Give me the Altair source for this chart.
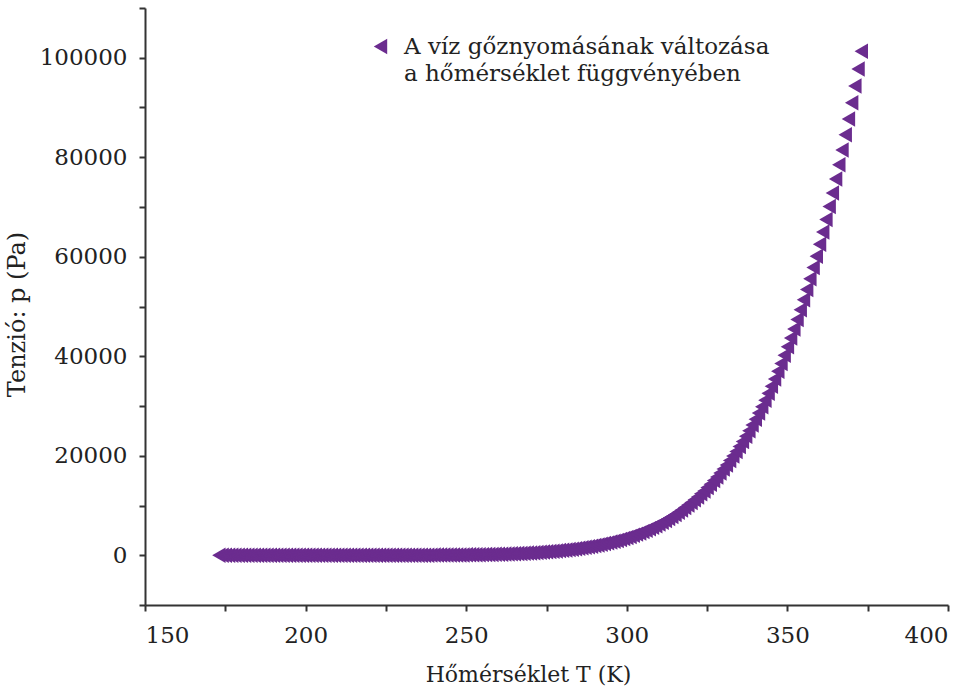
import altair as alt
import pandas as pd

# Temperature (K) and saturated vapour pressure of water (Pa)
temps = list(range(173, 374))
pressure = [
    0.0014, 0.0017, 0.0020, 0.0025, 0.0030, 0.0038, 0.0045, 0.0054, 0.0066, 0.0080,
    0.0097, 0.012, 0.014, 0.017, 0.020, 0.024, 0.029, 0.034, 0.041, 0.048,
    0.055, 0.066, 0.078, 0.092, 0.11, 0.13, 0.15, 0.17, 0.20, 0.23,
    0.26, 0.30, 0.35, 0.40, 0.46, 0.53, 0.61, 0.70, 0.80, 0.91,
    1.08, 1.23, 1.40, 1.59, 1.81, 2.06, 2.34, 2.65, 3.0, 3.4,
    3.9, 4.4, 5.0, 5.6, 6.3, 7.2, 8.1, 9.1, 10.2, 11.5,
    12.9, 14.4, 16.1, 18.0, 20.1, 22.4, 25.0, 27.8, 30.9, 34.3,
    38, 42, 47, 52, 57, 63, 70, 77, 85, 94,
    103, 114, 125, 137, 151, 165, 181, 198, 217, 238,
    260, 284, 310, 338, 369, 402, 437, 476, 517, 563,
    611, 657, 706, 758, 813, 872, 935, 1002, 1073, 1148,
    1228, 1313, 1403, 1498, 1599, 1706, 1819, 1938, 2064, 2198,
    2339, 2488, 2645, 2810, 2985, 3169, 3363, 3567, 3782, 4008,
    4246, 4495, 4758, 5034, 5323, 5627, 5945, 6280, 6630, 6997,
    7384, 7788, 8210, 8651, 9112, 9593, 10094, 10616, 11160, 11727,
    12344, 12932, 13597, 14292, 15012, 15752, 16522, 17324, 18159, 19028,
    19932, 20873, 21851, 22868, 23925, 25022, 26163, 27347, 28576, 29852,
    31176, 32549, 33972, 35448, 36978, 38563, 40205, 41905, 43665, 45487,
    47373, 49324, 51342, 53428, 55585, 57815, 60119, 62499, 64958, 67496,
    70117, 72823, 75614, 78494, 81465, 84529, 87688, 90945, 94301, 97759,
    101325,
]
# legend text (two lines; the second line carries no symbol)
legend_lines = ["A víz gőznyomásának változása", "a hőmérséklet függvényében"]

x_ticks = [150, 175, 200, 225, 250, 275, 300, 325, 350, 375, 400]
y_ticks = list(range(-10000, 110001, 10000))

df = pd.DataFrame({"T": temps, "p": pressure, "series": [legend_lines[0]] * len(temps)})

FONT = "DejaVu Serif"
PURPLE = "#6B2C8F"

chart = (
    alt.Chart(df)
    .mark_point(shape="triangle-left", filled=True, opacity=1, size=240)
    .encode(
        x=alt.X(
            "T:Q",
            scale=alt.Scale(domain=[150, 400], nice=False, zero=False),
            axis=alt.Axis(
                title="Hőmérséklet T (K)",
                values=x_ticks,
                labelExpr="datum.value % 50 == 0 ? datum.label : ''",
                grid=False,
                titleX=383,
                titleFontSize=22,
            ),
        ),
        y=alt.Y(
            "p:Q",
            scale=alt.Scale(domain=[-10000, 110000], nice=False, zero=False),
            axis=alt.Axis(
                title="Tenzió: p (Pa)",
                values=y_ticks,
                format="d",
                labelExpr="(datum.value % 20000 == 0 && datum.value >= 0 && datum.value <= 100000) ? datum.label : ''",
                grid=False,
                titleY=306,
                titleFontSize=24,
            ),
        ),
        color=alt.Color(
            "series:N",
            scale=alt.Scale(domain=legend_lines, range=[PURPLE, "transparent"]),
            legend=alt.Legend(
                title=None,
                orient="none",
                legendX=224,
                legendY=27,
                symbolType="triangle-left",
                symbolSize=240,
                symbolOpacity=1,
                labelFont=FONT,
                labelFontSize=23,
                labelColor="#222222",
                labelLimit=700,
                labelBaseline="middle",
                labelOffset=12,
                rowPadding=3,
            ),
        ),
    )
    .properties(
        width=803,
        height=597,
        padding={"left": 145, "top": 8, "right": 27, "bottom": 83},
        autosize=alt.AutoSizeParams(type="none"),
    )
    .configure_view(stroke=None)
    .configure_axis(
        labelFont=FONT,
        titleFont=FONT,
        labelFontSize=23,
        titleFontWeight="normal",
        labelColor="#222222",
        titleColor="#222222",
        domainColor="#333333",
        domainWidth=2,
        tickColor="#333333",
        tickWidth=2,
        tickSize=6,
    )
    .configure_axisX(labelPadding=13, titlePadding=17)
    .configure_axisY(labelPadding=12, titlePadding=10)
)

chart.save("out.html", embed_options={"renderer": "svg", "actions": False})
